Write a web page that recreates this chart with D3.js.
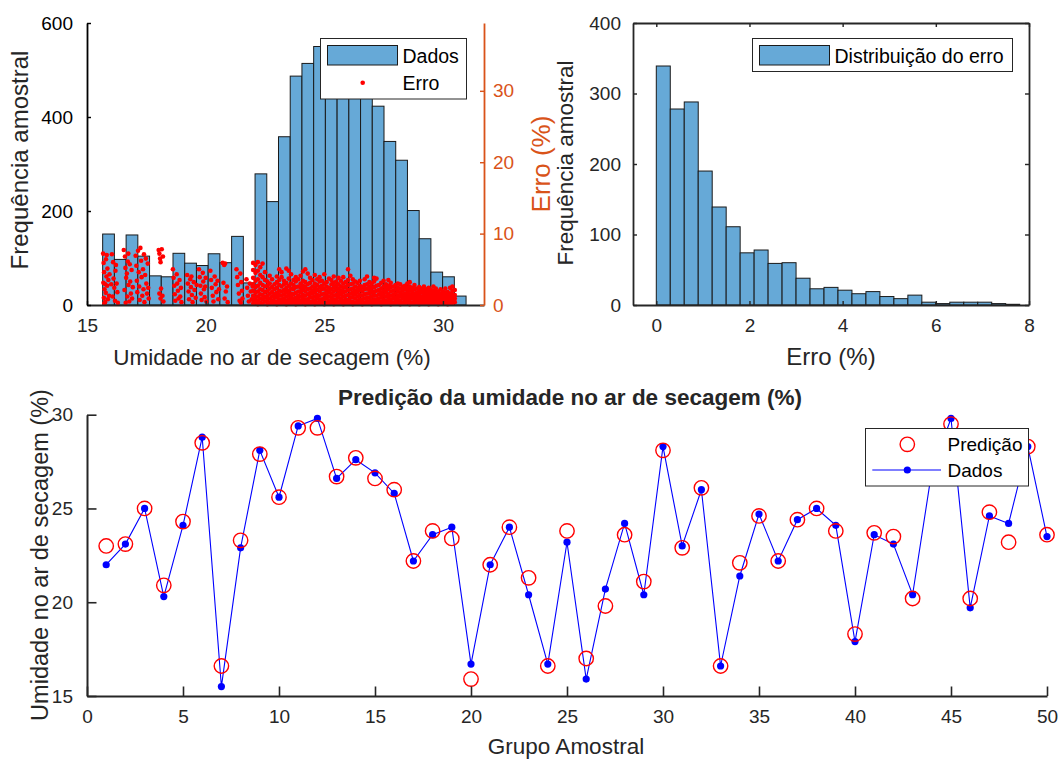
<!DOCTYPE html>
<html>
<head>
<meta charset="utf-8">
<script src="https://cdn.jsdelivr.net/npm/d3@7"></script>
<style>
  body { margin: 0; background: #fff; }
  svg { font-family: "Liberation Sans", Arial, Helvetica, sans-serif; }
</style>
</head>
<body>
<svg id="chart" width="1060" height="759"></svg>
<script>
// ---- dados ----
// histograma da umidade (31 classes)
const umidadeBinInicio = 15.66;
const umidadeBinLargura = 0.494;
const umidadeContagens = [151, 97, 149, 104, 62, 60, 110, 89, 84, 109, 90, 146, 47, 279, 220, 358,
  487, 514, 550, 565, 558, 545, 497, 423, 348, 308, 201, 141, 70, 60, 19];

// erro (%) x umidade, parte esparsa (umidade < 22)
const erroPontosEsparsos = [
  [15.68, 7.2], [15.70, 5.9], [15.72, 4.6], [15.69, 3.1], [15.74, 2.2], [15.71, 1.0], [15.76, 0.4], [15.80, 6.4],
  [15.82, 4.0], [15.85, 2.7], [15.79, 1.7], [15.88, 0.8], [15.90, 3.5], [15.86, 5.1], [15.83, 7.0], [15.77, 2.9],
  [15.93, 1.3], [15.95, 4.3], [15.73, 0.2],
  [16.05, 7.1], [16.10, 6.0], [16.12, 3.7], [16.15, 2.4], [16.08, 1.2], [16.20, 4.8], [16.18, 0.6], [16.25, 3.0],
  [16.22, 5.6], [16.28, 1.8], [16.02, 2.9], [16.30, 0.3],
  [16.55, 7.7], [16.60, 6.8], [16.62, 5.2], [16.65, 3.8], [16.58, 2.1], [16.70, 1.2], [16.68, 4.4], [16.72, 6.1],
  [16.75, 2.8], [16.78, 0.5], [16.82, 3.3], [16.80, 5.7], [16.85, 1.6], [16.88, 4.9], [16.90, 0.9], [16.93, 2.5],
  [16.63, 0.3], [16.74, 7.2],
  [17.05, 6.9], [17.08, 5.5], [17.10, 3.4], [17.12, 1.8], [17.15, 7.6], [17.18, 4.6], [17.20, 2.6], [17.22, 0.7],
  [17.25, 8.0], [17.28, 6.2], [17.30, 3.9], [17.33, 1.3], [17.36, 5.0], [17.38, 2.2], [17.40, 7.1], [17.42, 0.4],
  [17.45, 4.2], [17.48, 6.5], [17.50, 3.0], [17.53, 1.6], [17.56, 5.8], [17.58, 2.4], [17.60, 0.9],
  [18.02, 7.7], [18.05, 7.2], [18.08, 6.5], [18.10, 6.0], [18.15, 7.8], [18.20, 6.8], [18.05, 1.6], [18.10, 0.9],
  [18.18, 1.3], [18.22, 0.5], [18.12, 2.3],
  [18.62, 5.0], [18.65, 3.8], [18.68, 2.7], [18.70, 1.5], [18.72, 0.6], [18.78, 4.3], [18.80, 3.0], [18.83, 2.0],
  [18.86, 0.9], [18.90, 3.5], [18.93, 1.2], [18.96, 2.4], [18.98, 0.4],
  [19.22, 4.2], [19.25, 3.0], [19.28, 1.9], [19.30, 0.8], [19.35, 3.6], [19.38, 2.5], [19.42, 1.4], [19.45, 0.4],
  [19.50, 3.2], [19.53, 2.1], [19.58, 1.0], [19.62, 2.8], [19.40, 4.0],
  [19.72, 5.0], [19.75, 3.9], [19.78, 2.7], [19.80, 1.6], [19.83, 0.7], [19.88, 4.5], [19.90, 3.3], [19.93, 2.2],
  [19.96, 1.1], [20.00, 3.8], [20.03, 0.5], [19.98, 2.6],
  [20.20, 4.8], [20.23, 3.5], [20.26, 2.4], [20.30, 1.3], [20.33, 0.5], [20.38, 4.0], [20.42, 2.9], [20.45, 1.8],
  [20.50, 3.4], [20.53, 0.8], [20.56, 2.2],
  [20.72, 5.9], [20.78, 5.6], [20.82, 5.8], [20.75, 3.1], [20.85, 1.9], [20.80, 0.9], [20.90, 2.6], [20.93, 0.4],
  [21.30, 5.0], [21.33, 3.9], [21.36, 2.8], [21.40, 1.6], [21.43, 0.6], [21.46, 4.4], [21.50, 3.2], [21.53, 2.0],
  [21.55, 0.9], [21.48, 0.3],
  [21.72, 3.6], [21.75, 2.4], [21.78, 1.3], [21.82, 0.5], [21.86, 3.0], [21.90, 1.9], [21.94, 0.8], [21.98, 2.6]
];

// erro (%) x umidade, parte densa: [umidade, [erros]]
const erroColunasDensas = [
  [22.00, [0.2, 0.7, 1.3, 2.0, 2.9, 3.8, 4.9, 5.9]], [22.10, [0.4, 1.0, 1.7, 2.5, 3.4, 4.5, 5.6]],
  [22.20, [0.1, 0.6, 1.2, 1.9, 2.7, 3.6, 4.8, 6.0]], [22.30, [0.3, 0.9, 1.5, 2.2, 3.1, 4.2, 5.3]],
  [22.40, [0.2, 0.8, 1.4, 2.1, 2.8, 3.9, 5.8]], [22.50, [0.5, 1.1, 1.8, 2.6, 3.5, 4.6]],
  [22.60, [0.1, 0.7, 1.3, 2.0, 2.7, 3.3]], [22.70, [0.3, 0.9, 1.6, 2.3, 3.0, 4.1]],
  [22.80, [0.2, 0.6, 1.2, 1.8, 2.5, 3.6]], [22.90, [0.4, 1.0, 1.5, 2.2, 2.9]],
  [23.00, [0.1, 0.5, 1.1, 1.7, 2.4, 3.2, 4.0]], [23.10, [0.3, 0.8, 1.4, 2.0, 2.8, 3.5, 5.0]],
  [23.20, [0.2, 0.7, 1.3, 1.9, 2.6, 3.9, 4.6]], [23.30, [0.4, 0.9, 1.5, 2.1, 2.9, 3.4]],
  [23.40, [0.1, 0.6, 1.2, 1.8, 2.4, 3.1, 5.1]], [23.50, [0.3, 0.8, 1.4, 2.0, 2.7, 3.7, 4.8]],
  [23.60, [0.2, 0.7, 1.1, 1.6, 2.3, 3.0, 4.3]], [23.70, [0.4, 0.9, 1.5, 2.2, 2.8, 3.5]],
  [23.80, [0.1, 0.5, 1.0, 1.7, 2.5, 3.3, 3.9]], [23.90, [0.3, 0.8, 1.3, 1.9, 2.6, 3.6]],
  [24.00, [0.2, 0.6, 1.2, 1.8, 2.4, 3.0, 4.1]], [24.10, [0.4, 0.9, 1.4, 2.1, 2.7, 3.4, 4.7]],
  [24.20, [0.1, 0.7, 1.3, 1.9, 2.5, 3.2, 5.0]], [24.30, [0.3, 0.8, 1.5, 2.2, 2.9, 4.4]],
  [24.40, [0.2, 0.5, 1.1, 1.7, 2.3, 3.1, 3.8]], [24.50, [0.4, 1.0, 1.6, 2.0, 2.6, 3.5]],
  [24.60, [0.1, 0.6, 1.2, 1.8, 2.4, 3.0, 4.2]], [24.70, [0.3, 0.9, 1.4, 2.1, 2.8, 3.6]],
  [24.80, [0.2, 0.7, 1.3, 1.9, 2.5, 3.3, 3.9]], [24.90, [0.4, 0.8, 1.5, 2.2, 2.7, 3.4]],
  [25.00, [0.1, 0.5, 1.0, 1.6, 2.3, 3.0, 4.3]], [25.10, [0.3, 0.9, 1.4, 2.0, 2.6, 3.2]],
  [25.20, [0.2, 0.6, 1.2, 1.8, 2.4, 3.7]], [25.30, [0.4, 1.0, 1.6, 2.2, 2.9, 3.5]],
  [25.40, [0.1, 0.7, 1.3, 1.9, 2.5, 3.1, 4.0]], [25.50, [0.3, 0.8, 1.4, 2.1, 2.7, 3.3]],
  [25.60, [0.2, 0.5, 1.1, 1.7, 2.3, 2.9, 3.8]], [25.70, [0.4, 0.9, 1.5, 2.0, 2.6, 3.4]],
  [25.80, [0.1, 0.6, 1.2, 1.8, 2.4, 3.0, 3.9]], [25.90, [0.3, 0.8, 1.3, 1.9, 2.5, 3.2]],
  [26.00, [0.2, 0.7, 1.4, 2.1, 2.8, 3.5, 5.0]], [26.10, [0.4, 1.0, 1.6, 2.2, 2.9, 4.1]],
  [26.20, [0.1, 0.5, 1.1, 1.7, 2.3, 3.0, 3.6]], [26.30, [0.3, 0.9, 1.5, 2.0, 2.6, 3.3]],
  [26.40, [0.2, 0.6, 1.2, 1.8, 2.4, 3.1]], [26.50, [0.4, 0.8, 1.4, 2.1, 2.7, 3.4]],
  [26.60, [0.1, 0.7, 1.3, 1.9, 2.5]], [26.70, [0.3, 0.9, 1.5, 2.2, 2.8, 3.6]],
  [26.80, [0.2, 0.5, 1.0, 1.6, 2.3, 2.9, 4.0]], [26.90, [0.4, 1.0, 1.6, 2.1, 2.6, 3.2]],
  [27.00, [0.1, 0.6, 1.2, 1.8, 2.4, 3.0]], [27.10, [0.3, 0.8, 1.4, 1.9, 2.5, 3.3, 3.8]],
  [27.20, [0.2, 0.7, 1.3, 2.0, 2.7, 3.7]], [27.30, [0.4, 0.9, 1.5, 2.1, 2.8]],
  [27.40, [0.1, 0.5, 1.1, 1.7, 2.3, 3.1]], [27.50, [0.3, 0.8, 1.4, 2.0, 2.6, 3.4]],
  [27.60, [0.2, 0.6, 1.2, 1.8, 2.4, 2.9]], [27.70, [0.4, 1.0, 1.5, 2.2, 2.7, 3.5]],
  [27.80, [0.1, 0.7, 1.3, 1.9, 2.5, 3.1]], [27.90, [0.3, 0.9, 1.4, 2.0, 2.6]],
  [28.00, [0.2, 0.5, 1.0, 1.6, 2.2, 2.8]], [28.10, [0.4, 0.8, 1.3, 1.9, 2.4, 3.0]],
  [28.20, [0.1, 0.6, 1.2, 1.7, 2.3, 2.9]], [28.30, [0.3, 0.9, 1.4, 2.0, 2.5]],
  [28.40, [0.2, 0.7, 1.1, 1.6, 2.2, 2.7]], [28.50, [0.4, 0.8, 1.3, 1.8, 2.4, 3.0]],
  [28.60, [0.1, 0.5, 1.0, 1.5, 2.1, 2.6, 3.2]], [28.70, [0.3, 0.9, 1.4, 1.9, 2.4]],
  [28.80, [0.2, 0.6, 1.1, 1.6, 2.2, 2.8]], [28.90, [0.4, 0.8, 1.2, 1.7, 2.3]],
  [29.00, [0.1, 0.5, 1.0, 1.5, 2.0, 2.5]], [29.10, [0.3, 0.7, 1.2, 1.8, 2.3]],
  [29.20, [0.2, 0.6, 1.1, 1.6, 2.1, 2.6]], [29.30, [0.4, 0.9, 1.3, 1.8, 2.2]],
  [29.40, [0.1, 0.5, 1.0, 1.4, 1.9, 2.4]], [29.50, [0.3, 0.8, 1.2, 1.7, 2.1]],
  [29.60, [0.2, 0.6, 1.1, 1.5, 2.0, 2.6]], [29.70, [0.4, 0.9, 1.3, 1.8, 2.3]],
  [29.80, [0.1, 0.5, 0.9, 1.4, 1.9]], [29.90, [0.3, 0.7, 1.2, 1.6, 2.2]],
  [30.00, [0.2, 0.6, 1.0, 1.5, 1.9]], [30.10, [0.4, 0.8, 1.3, 1.7, 2.3]],
  [30.20, [0.1, 0.5, 0.9, 1.4, 1.8]], [30.30, [0.3, 0.7, 1.1, 1.6, 2.4]],
  [30.40, [0.2, 0.6, 1.0, 1.5, 2.0, 2.6]], [30.50, [0.4, 0.9, 1.4, 2.1]]
];

// histograma do erro (26 classes de 0.3)
const erroBinInicio = 0;
const erroBinLargura = 0.3;
const erroContagens = [339, 278, 288, 190, 139, 111, 74, 78, 59, 60, 38, 23, 25, 21, 16, 19, 12, 9, 14, 4, 2, 4, 4, 4, 2, 1];

// predição por grupo amostral
const grupos = d3.range(1, 51);
const dadosUmidade = [22.0, 23.1, 25.0, 20.3, 24.1, 28.8, 15.5, 22.9, 28.1, 25.6, 29.4, 29.8, 26.6, 27.6, 26.9,
  25.8, 22.2, 23.6, 24.0, 16.7, 22.0, 24.0, 20.4, 16.7, 23.2, 15.9, 20.7, 24.2, 20.4, 28.3, 23.0, 26.0, 16.6,
  21.4, 24.7, 22.2, 24.4, 25.0, 24.1, 17.9, 23.6, 23.1, 20.4, 27.0, 29.8, 19.7, 24.6, 24.2, 28.3, 23.5];
const predicaoUmidade = [23.0, 23.1, 25.0, 20.9, 24.3, 28.5, 16.6, 23.3, 27.9, 25.6, 29.3, 29.3, 26.7, 27.7, 26.6,
  26.0, 22.2, 23.8, 23.4, 15.9, 22.0, 24.0, 21.3, 16.6, 23.8, 17.0, 19.8, 23.6, 21.1, 28.1, 22.9, 26.1, 16.6,
  22.1, 24.6, 22.2, 24.4, 25.0, 23.8, 18.3, 23.7, 23.5, 20.2, 27.3, 29.5, 20.2, 24.8, 23.2, 28.3, 23.6];

// ---- estilo ----
const corTexto = '#262626';
const corLaranja = '#D95319';
const corBarra = '#66A9D7';
const tamTick = 19;
const tamRotulo = 22.5;
const tamLegenda = 19.5;

const svg = d3.select('#chart');

function estilizaEixo(g, cor, largura) {
  g.attr('font-size', tamTick)
    .attr('font-family', null)
    .attr('color', cor);
  g.select('.domain').attr('stroke-width', largura);
  g.selectAll('.tick line').attr('stroke-width', largura * 0.8);
}

function rotulo(texto, x, y, opts = {}) {
  const t = svg.append('text')
    .attr('text-anchor', 'middle')
    .attr('dy', '0.35em')
    .attr('font-size', opts.size || tamRotulo)
    .attr('fill', opts.cor || corTexto)
    .attr('font-weight', opts.bold ? 'bold' : null)
    .text(texto);
  if (opts.vertical) {
    t.attr('transform', `translate(${x},${y}) rotate(-90)`);
  } else {
    t.attr('x', x).attr('y', y);
  }
  return t;
}

function desenhaHistograma(g, x, y, inicio, largura, contagens) {
  g.selectAll('rect')
    .data(contagens)
    .join('rect')
    .attr('x', (d, i) => x(inicio + i * largura))
    .attr('y', d => y(d))
    .attr('width', x(inicio + largura) - x(inicio))
    .attr('height', d => y(0) - y(d))
    .attr('fill', corBarra)
    .attr('stroke', '#1a1a1a')
    .attr('stroke-width', 1);
}

// ---- painel 1: umidade + erro ----
const p1 = { left: 87, right: 484, top: 23, bottom: 305 };
const x1 = d3.scaleLinear().domain([15, 31.73]).range([p1.left, p1.right]);
const y1 = d3.scaleLinear().domain([0, 600]).range([p1.bottom, p1.top]);
const y1b = d3.scaleLinear().domain([0, 39.5]).range([p1.bottom, p1.top]);

desenhaHistograma(svg.append('g'), x1, y1, umidadeBinInicio, umidadeBinLargura, umidadeContagens);

const pontosErro = erroPontosEsparsos.concat(
  erroColunasDensas.flatMap(([u, erros]) => erros.map(e => [u, e]))
);
svg.append('g')
  .selectAll('circle')
  .data(pontosErro)
  .join('circle')
  .attr('cx', d => x1(d[0]))
  .attr('cy', d => y1b(d[1]))
  .attr('r', 2.3)
  .attr('fill', '#ff0000');

svg.append('g')
  .attr('transform', `translate(0,${p1.bottom})`)
  .call(d3.axisBottom(x1).tickValues([15, 20, 25, 30]).tickSizeInner(-4).tickSizeOuter(0).tickPadding(14))
  .call(g => estilizaEixo(g, corTexto, 1.8));
svg.append('g')
  .attr('transform', `translate(${p1.left},0)`)
  .call(d3.axisLeft(y1).tickValues([0, 200, 400, 600]).tickSizeInner(-4).tickSizeOuter(0).tickPadding(14))
  .call(g => estilizaEixo(g, '#000', 1.8));
svg.append('g')
  .attr('transform', `translate(${p1.right},0)`)
  .call(d3.axisRight(y1b).tickValues([0, 10, 20, 30]).tickSizeInner(-4).tickSizeOuter(0).tickPadding(9))
  .call(g => estilizaEixo(g, corLaranja, 1.8));

rotulo('Frequência amostral', 20, 160, { vertical: true, size: 24 });
rotulo('Erro (%)', 541, 164, { vertical: true, cor: corLaranja, size: 26 });
rotulo('Umidade no ar de secagem (%)', 272, 357);

// legenda 1
const leg1 = svg.append('g');
leg1.append('rect').attr('x', 320.5).attr('y', 38.5).attr('width', 146).attr('height', 60.5)
  .attr('fill', '#fff').attr('stroke', corTexto).attr('stroke-width', 1);
leg1.append('rect').attr('x', 327.5).attr('y', 45.5).attr('width', 70).attr('height', 19.5)
  .attr('fill', corBarra).attr('stroke', '#1a1a1a').attr('stroke-width', 1);
leg1.append('circle').attr('cx', 362.7).attr('cy', 82.7).attr('r', 2.3).attr('fill', '#ff0000');
leg1.selectAll('text').data(['Dados', 'Erro']).join('text')
  .attr('x', 402.5).attr('y', (d, i) => 56 + i * 27).attr('dy', '0.35em')
  .attr('font-size', tamLegenda).attr('fill', '#000').text(d => d);

// ---- painel 2: distribuição do erro ----
const p2 = { left: 633, right: 1029, top: 23, bottom: 305 };
const x2 = d3.scaleLinear().domain([-0.5, 8]).range([p2.left, p2.right]);
const y2 = d3.scaleLinear().domain([0, 400]).range([p2.bottom, p2.top]);

desenhaHistograma(svg.append('g'), x2, y2, erroBinInicio, erroBinLargura, erroContagens);

svg.append('g')
  .attr('transform', `translate(0,${p2.bottom})`)
  .call(d3.axisBottom(x2).tickValues([0, 2, 4, 6, 8]).tickSizeInner(-4).tickSizeOuter(0).tickPadding(14))
  .call(g => estilizaEixo(g, corTexto, 1.8));
svg.append('g')
  .attr('transform', `translate(0,${p2.top})`)
  .call(d3.axisTop(x2).tickValues([0, 2, 4, 6, 8]).tickSizeInner(-4).tickSizeOuter(0).tickFormat(''))
  .call(g => estilizaEixo(g, corTexto, 1.8));
svg.append('g')
  .attr('transform', `translate(${p2.left},0)`)
  .call(d3.axisLeft(y2).tickValues([0, 100, 200, 300, 400]).tickSizeInner(-4).tickSizeOuter(0).tickPadding(12))
  .call(g => estilizaEixo(g, corTexto, 1.8));
svg.append('g')
  .attr('transform', `translate(${p2.right},0)`)
  .call(d3.axisRight(y2).tickValues([0, 100, 200, 300, 400]).tickSizeInner(-4).tickSizeOuter(0).tickFormat(''))
  .call(g => estilizaEixo(g, corTexto, 1.8));

rotulo('Frequência amostral', 565, 163, { vertical: true, size: 22.5 });
rotulo('Erro (%)', 831, 357, { size: 24 });

const leg2 = svg.append('g');
leg2.append('rect').attr('x', 752.5).attr('y', 38.5).attr('width', 260).attr('height', 33)
  .attr('fill', '#fff').attr('stroke', corTexto).attr('stroke-width', 1);
leg2.append('rect').attr('x', 759.5).attr('y', 45.5).attr('width', 70).attr('height', 19.5)
  .attr('fill', corBarra).attr('stroke', '#1a1a1a').attr('stroke-width', 1);
leg2.append('text').attr('x', 834.5).attr('y', 56).attr('dy', '0.35em')
  .attr('font-size', tamLegenda).attr('fill', '#000').text('Distribuição do erro');

// ---- painel 3: predição ----
const p3 = { left: 87, right: 1047, top: 414.7, bottom: 696 };
const x3 = d3.scaleLinear().domain([0, 50]).range([p3.left, p3.right]);
const y3 = d3.scaleLinear().domain([15, 30]).range([p3.bottom, p3.top]);

const linha = d3.line().x((d, i) => x3(grupos[i])).y(d => y3(d));
svg.append('path')
  .datum(dadosUmidade)
  .attr('d', linha)
  .attr('fill', 'none')
  .attr('stroke', '#0000ff')
  .attr('stroke-width', 1.1);
svg.append('g')
  .selectAll('circle')
  .data(dadosUmidade)
  .join('circle')
  .attr('cx', (d, i) => x3(grupos[i]))
  .attr('cy', d => y3(d))
  .attr('r', 3.6)
  .attr('fill', '#0000ff');
svg.append('g')
  .selectAll('circle')
  .data(predicaoUmidade)
  .join('circle')
  .attr('cx', (d, i) => x3(grupos[i]))
  .attr('cy', d => y3(d))
  .attr('r', 7.2)
  .attr('fill', 'none')
  .attr('stroke', '#ff0000')
  .attr('stroke-width', 1.4);

svg.append('g')
  .attr('transform', `translate(0,${p3.bottom})`)
  .call(d3.axisBottom(x3).tickValues(d3.range(0, 51, 5)).tickSizeInner(-9.5).tickSizeOuter(0).tickPadding(14))
  .call(g => estilizaEixo(g, corTexto, 2));
svg.append('g')
  .attr('transform', `translate(${p3.left},0)`)
  .call(d3.axisLeft(y3).tickValues([15, 20, 25, 30]).tickSizeInner(-9.5).tickSizeOuter(0).tickPadding(14))
  .call(g => estilizaEixo(g, corTexto, 2));

rotulo('Predição da umidade no ar de secagem (%)', 570, 397, { bold: true, size: 22.5 });
rotulo('Umidade no ar de secagem (%)', 40, 555, { vertical: true, size: 23.5 });
rotulo('Grupo Amostral', 566, 746);

const leg3 = svg.append('g');
leg3.append('rect').attr('x', 865.5).attr('y', 428.5).attr('width', 163).attr('height', 57.5)
  .attr('fill', '#fff').attr('stroke', corTexto).attr('stroke-width', 1);
leg3.append('circle').attr('cx', 907.3).attr('cy', 444.3).attr('r', 7.2)
  .attr('fill', 'none').attr('stroke', '#ff0000').attr('stroke-width', 1.4);
leg3.append('line').attr('x1', 872.3).attr('x2', 941).attr('y1', 470).attr('y2', 470)
  .attr('stroke', '#0000ff').attr('stroke-width', 1.1);
leg3.append('circle').attr('cx', 907.3).attr('cy', 470).attr('r', 3.6).attr('fill', '#0000ff');
leg3.selectAll('text').data(['Predição', 'Dados']).join('text')
  .attr('x', 947.5).attr('y', (d, i) => 444 + i * 26).attr('dy', '0.35em')
  .attr('font-size', 19).attr('fill', '#000').text(d => d);
</script>
</body>
</html>
